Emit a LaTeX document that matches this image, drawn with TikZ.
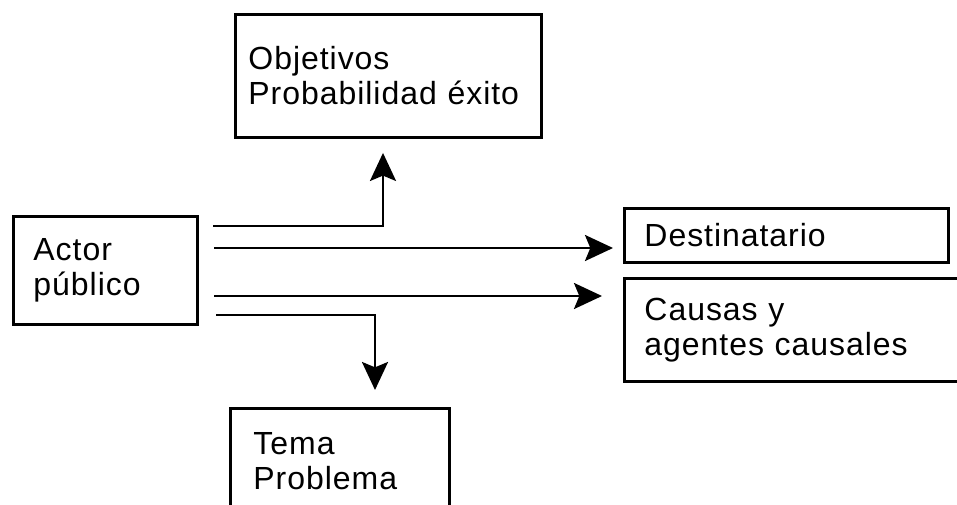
\documentclass[tikz,border=0pt]{standalone}
\usepackage{fontspec}
\setmainfont[LetterSpace=3]{Liberation Sans}
\usetikzlibrary{arrows.meta}

\tikzset{
  caja/.style = {draw, line width=2.2pt, anchor=north west, align=left,
    font=\fontsize{24}{26.25}\selectfont},
  flecha/.style = {line width=2pt,
    -{Stealth[length=21pt, width=19.5pt, inset=4pt]}}
}

\begin{document}
\begin{tikzpicture}[x=0.75pt, y=-0.75pt]
    \clip (0,0) rectangle (957,504);
    \fill[white] (0,0) rectangle (957,504);

    \node[caja, inner xsep=15pt, text width=108pt, minimum height=81pt](actor) at (12,215) {Actor\\público};
    \node[caja, inner xsep=9.75pt, text width=210pt, minimum height=92.25pt](objetivos) at (234,13) {Objetivos\\Probabilidad éxito};
    \node[caja, inner xsep=15pt, text width=213pt, minimum height=40.5pt](destinatario) at (623,207) {Destinatario};
    \node[caja, inner xsep=15pt, text width=255pt, minimum height=77.25pt](causas) at (623,277) {Causas y\\agentes causales};
    \node[caja, inner xsep=17.25pt, text width=129.75pt, minimum height=78.75pt](tema) at (229,407) {Tema\\Problema};

    \coordinate (o1) at (213,226);
    \coordinate (o2) at (214,248);
    \coordinate (o3) at (214,296);
    \coordinate (o4) at (216,315);
    \coordinate (b1) at (383,226);
    \coordinate (b4) at (375,315);

    \draw [flecha, shorten >=10.5pt] (o1) -- (b1) -- (b1 |- objetivos.south);
    \draw [flecha, shorten >=7.5pt] (o2) -- (o2 -| destinatario.west);
    \draw [flecha, shorten >=15.75pt] (o3) -- (o3 -| causas.west);
    \draw [flecha, shorten >=12.75pt] (o4) -- (b4) -- (b4 |- tema.north);
\end{tikzpicture}
\end{document}
